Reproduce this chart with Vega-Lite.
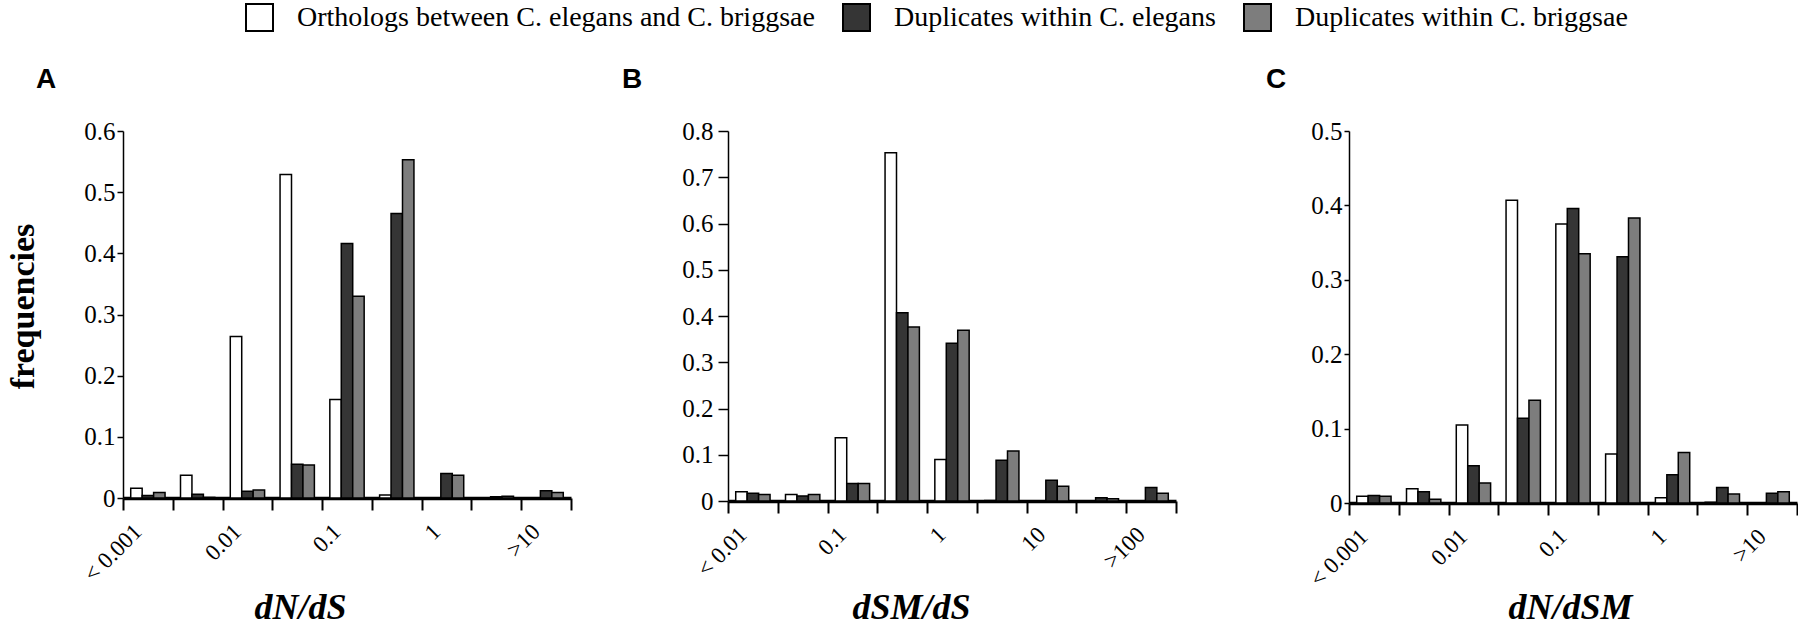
{
  "$schema": "https://vega.github.io/schema/vega-lite/v6.json",
  "background": "white",
  "padding": {"left": 6, "top": 3, "right": 0, "bottom": 0},
  "data": {"values": [
    {"panel":"A","bin":0,"series":"Orthologs between C. elegans and C. briggsae","freq":0.016},
    {"panel":"A","bin":0,"series":"Duplicates within C. elegans","freq":0.004},
    {"panel":"A","bin":0,"series":"Duplicates within C. briggsae","freq":0.009},
    {"panel":"A","bin":1,"series":"Orthologs between C. elegans and C. briggsae","freq":0.037},
    {"panel":"A","bin":1,"series":"Duplicates within C. elegans","freq":0.006},
    {"panel":"A","bin":1,"series":"Duplicates within C. briggsae","freq":0.001},
    {"panel":"A","bin":2,"series":"Orthologs between C. elegans and C. briggsae","freq":0.264},
    {"panel":"A","bin":2,"series":"Duplicates within C. elegans","freq":0.011},
    {"panel":"A","bin":2,"series":"Duplicates within C. briggsae","freq":0.013},
    {"panel":"A","bin":3,"series":"Orthologs between C. elegans and C. briggsae","freq":0.529},
    {"panel":"A","bin":3,"series":"Duplicates within C. elegans","freq":0.055},
    {"panel":"A","bin":3,"series":"Duplicates within C. briggsae","freq":0.054},
    {"panel":"A","bin":4,"series":"Orthologs between C. elegans and C. briggsae","freq":0.161},
    {"panel":"A","bin":4,"series":"Duplicates within C. elegans","freq":0.416},
    {"panel":"A","bin":4,"series":"Duplicates within C. briggsae","freq":0.330},
    {"panel":"A","bin":5,"series":"Orthologs between C. elegans and C. briggsae","freq":0.005},
    {"panel":"A","bin":5,"series":"Duplicates within C. elegans","freq":0.465},
    {"panel":"A","bin":5,"series":"Duplicates within C. briggsae","freq":0.553},
    {"panel":"A","bin":6,"series":"Orthologs between C. elegans and C. briggsae","freq":0.0},
    {"panel":"A","bin":6,"series":"Duplicates within C. elegans","freq":0.040},
    {"panel":"A","bin":6,"series":"Duplicates within C. briggsae","freq":0.037},
    {"panel":"A","bin":7,"series":"Orthologs between C. elegans and C. briggsae","freq":0.0},
    {"panel":"A","bin":7,"series":"Duplicates within C. elegans","freq":0.002},
    {"panel":"A","bin":7,"series":"Duplicates within C. briggsae","freq":0.003},
    {"panel":"A","bin":8,"series":"Orthologs between C. elegans and C. briggsae","freq":0.0},
    {"panel":"A","bin":8,"series":"Duplicates within C. elegans","freq":0.012},
    {"panel":"A","bin":8,"series":"Duplicates within C. briggsae","freq":0.009},
    {"panel":"B","bin":0,"series":"Orthologs between C. elegans and C. briggsae","freq":0.020},
    {"panel":"B","bin":0,"series":"Duplicates within C. elegans","freq":0.017},
    {"panel":"B","bin":0,"series":"Duplicates within C. briggsae","freq":0.014},
    {"panel":"B","bin":1,"series":"Orthologs between C. elegans and C. briggsae","freq":0.014},
    {"panel":"B","bin":1,"series":"Duplicates within C. elegans","freq":0.011},
    {"panel":"B","bin":1,"series":"Duplicates within C. briggsae","freq":0.014},
    {"panel":"B","bin":2,"series":"Orthologs between C. elegans and C. briggsae","freq":0.137},
    {"panel":"B","bin":2,"series":"Duplicates within C. elegans","freq":0.038},
    {"panel":"B","bin":2,"series":"Duplicates within C. briggsae","freq":0.038},
    {"panel":"B","bin":3,"series":"Orthologs between C. elegans and C. briggsae","freq":0.753},
    {"panel":"B","bin":3,"series":"Duplicates within C. elegans","freq":0.407},
    {"panel":"B","bin":3,"series":"Duplicates within C. briggsae","freq":0.376},
    {"panel":"B","bin":4,"series":"Orthologs between C. elegans and C. briggsae","freq":0.090},
    {"panel":"B","bin":4,"series":"Duplicates within C. elegans","freq":0.341},
    {"panel":"B","bin":4,"series":"Duplicates within C. briggsae","freq":0.369},
    {"panel":"B","bin":5,"series":"Orthologs between C. elegans and C. briggsae","freq":0.001},
    {"panel":"B","bin":5,"series":"Duplicates within C. elegans","freq":0.088},
    {"panel":"B","bin":5,"series":"Duplicates within C. briggsae","freq":0.108},
    {"panel":"B","bin":6,"series":"Orthologs between C. elegans and C. briggsae","freq":0.0},
    {"panel":"B","bin":6,"series":"Duplicates within C. elegans","freq":0.045},
    {"panel":"B","bin":6,"series":"Duplicates within C. briggsae","freq":0.032},
    {"panel":"B","bin":7,"series":"Orthologs between C. elegans and C. briggsae","freq":0.0},
    {"panel":"B","bin":7,"series":"Duplicates within C. elegans","freq":0.007},
    {"panel":"B","bin":7,"series":"Duplicates within C. briggsae","freq":0.005},
    {"panel":"B","bin":8,"series":"Orthologs between C. elegans and C. briggsae","freq":0.0},
    {"panel":"B","bin":8,"series":"Duplicates within C. elegans","freq":0.029},
    {"panel":"B","bin":8,"series":"Duplicates within C. briggsae","freq":0.017},
    {"panel":"C","bin":0,"series":"Orthologs between C. elegans and C. briggsae","freq":0.009},
    {"panel":"C","bin":0,"series":"Duplicates within C. elegans","freq":0.010},
    {"panel":"C","bin":0,"series":"Duplicates within C. briggsae","freq":0.009},
    {"panel":"C","bin":1,"series":"Orthologs between C. elegans and C. briggsae","freq":0.019},
    {"panel":"C","bin":1,"series":"Duplicates within C. elegans","freq":0.015},
    {"panel":"C","bin":1,"series":"Duplicates within C. briggsae","freq":0.005},
    {"panel":"C","bin":2,"series":"Orthologs between C. elegans and C. briggsae","freq":0.105},
    {"panel":"C","bin":2,"series":"Duplicates within C. elegans","freq":0.050},
    {"panel":"C","bin":2,"series":"Duplicates within C. briggsae","freq":0.027},
    {"panel":"C","bin":3,"series":"Orthologs between C. elegans and C. briggsae","freq":0.407},
    {"panel":"C","bin":3,"series":"Duplicates within C. elegans","freq":0.114},
    {"panel":"C","bin":3,"series":"Duplicates within C. briggsae","freq":0.138},
    {"panel":"C","bin":4,"series":"Orthologs between C. elegans and C. briggsae","freq":0.375},
    {"panel":"C","bin":4,"series":"Duplicates within C. elegans","freq":0.396},
    {"panel":"C","bin":4,"series":"Duplicates within C. briggsae","freq":0.335},
    {"panel":"C","bin":5,"series":"Orthologs between C. elegans and C. briggsae","freq":0.066},
    {"panel":"C","bin":5,"series":"Duplicates within C. elegans","freq":0.331},
    {"panel":"C","bin":5,"series":"Duplicates within C. briggsae","freq":0.383},
    {"panel":"C","bin":6,"series":"Orthologs between C. elegans and C. briggsae","freq":0.007},
    {"panel":"C","bin":6,"series":"Duplicates within C. elegans","freq":0.038},
    {"panel":"C","bin":6,"series":"Duplicates within C. briggsae","freq":0.068},
    {"panel":"C","bin":7,"series":"Orthologs between C. elegans and C. briggsae","freq":0.001},
    {"panel":"C","bin":7,"series":"Duplicates within C. elegans","freq":0.021},
    {"panel":"C","bin":7,"series":"Duplicates within C. briggsae","freq":0.012},
    {"panel":"C","bin":8,"series":"Orthologs between C. elegans and C. briggsae","freq":0.0},
    {"panel":"C","bin":8,"series":"Duplicates within C. elegans","freq":0.013},
    {"panel":"C","bin":8,"series":"Duplicates within C. briggsae","freq":0.015}
  ]},
  "spacing": 157,
  "bounds": "flush",
  "hconcat": [
    {
      "width": 448, "height": 367,
      "title": {"text": "A", "anchor": "start", "frame": "group", "dx": -87, "offset": 3, "baseline": "alphabetic", "font": "Liberation Sans", "fontSize": 28, "fontWeight": "bold", "color": "black"},
      "transform": [{"filter": "datum.panel === 'A'"}],
      "mark": {"type": "bar", "stroke": "black", "strokeWidth": 1.5},
      "encoding": {
        "x": {"field": "bin", "type": "ordinal", "scale": {"paddingInner": 0, "paddingOuter": 0},
          "axis": {"title": "dN/dS", "titleX": 177, "titleY": 92, "titleAlign": "center", "titleBaseline": "top",
            "labelExpr": "datum.value == 0 ? '< 0.001' : datum.value == 2 ? '0.01' : datum.value == 4 ? '0.1' : datum.value == 6 ? '1' : datum.value == 8 ? '>10' : ''",
            "tickSize": 12, "labelPadding": 10, "labelOffset": -18}},
        "xOffset": {"field": "series", "type": "nominal", "scale": {"domain": ["Orthologs between C. elegans and C. briggsae", "Duplicates within C. elegans", "Duplicates within C. briggsae"], "paddingInner": 0, "paddingOuter": 0.675}},
        "y": {"field": "freq", "type": "quantitative", "scale": {"domain": [0, 0.6], "nice": false},
          "axis": {"title": "frequencies", "titleX": -100, "titleY": 175, "titleAngle": -90, "titleAlign": "center", "titleBaseline": "middle", "titleFontStyle": "normal",
            "values": [0, 0.1, 0.2, 0.3, 0.4, 0.5, 0.6], "format": ".1~f", "tickSize": 6, "labelPadding": 2}},
        "color": {"field": "series", "type": "nominal", "scale": {"domain": ["Orthologs between C. elegans and C. briggsae", "Duplicates within C. elegans", "Duplicates within C. briggsae"], "range": ["#ffffff", "#353535", "#7d7d7d"]}, "legend": {"title": null}}
      }
    },
    {
      "spacing": 173,
      "bounds": "flush",
      "hconcat": [
        {
          "width": 448, "height": 370,
          "title": {"text": "B", "anchor": "start", "frame": "group", "dx": -106, "offset": 3, "baseline": "alphabetic", "font": "Liberation Sans", "fontSize": 28, "fontWeight": "bold", "color": "black"},
          "transform": [{"filter": "datum.panel === 'B'"}],
          "mark": {"type": "bar", "stroke": "black", "strokeWidth": 1.5},
          "encoding": {
            "x": {"field": "bin", "type": "ordinal", "scale": {"paddingInner": 0, "paddingOuter": 0},
              "axis": {"title": "dSM/dS", "titleX": 183, "titleY": 89, "titleAlign": "center", "titleBaseline": "top",
                "labelExpr": "datum.value == 0 ? '< 0.01' : datum.value == 2 ? '0.1' : datum.value == 4 ? '1' : datum.value == 6 ? '10' : datum.value == 8 ? '>100' : ''",
                "tickSize": 12, "labelPadding": 10, "labelOffset": -18}},
            "xOffset": {"field": "series", "type": "nominal", "scale": {"domain": ["Orthologs between C. elegans and C. briggsae", "Duplicates within C. elegans", "Duplicates within C. briggsae"], "paddingInner": 0, "paddingOuter": 0.675}},
            "y": {"field": "freq", "type": "quantitative", "scale": {"domain": [0, 0.8], "nice": false},
              "axis": {"title": null, "values": [0, 0.1, 0.2, 0.3, 0.4, 0.5, 0.6, 0.7, 0.8], "format": ".1~f", "tickSize": 10, "labelPadding": 5}},
            "color": {"field": "series", "type": "nominal", "scale": {"domain": ["Orthologs between C. elegans and C. briggsae", "Duplicates within C. elegans", "Duplicates within C. briggsae"], "range": ["#ffffff", "#353535", "#7d7d7d"]}, "legend": {"title": null}}
          }
        },
        {
          "width": 448, "height": 372,
          "title": {"text": "C", "anchor": "start", "frame": "group", "dx": -83, "offset": 3, "baseline": "alphabetic", "font": "Liberation Sans", "fontSize": 28, "fontWeight": "bold", "color": "black"},
          "transform": [{"filter": "datum.panel === 'C'"}],
          "mark": {"type": "bar", "stroke": "black", "strokeWidth": 1.5},
          "encoding": {
            "x": {"field": "bin", "type": "ordinal", "scale": {"paddingInner": 0, "paddingOuter": 0},
              "axis": {"title": "dN/dSM", "titleX": 221, "titleY": 87, "titleAlign": "center", "titleBaseline": "top",
                "labelExpr": "datum.value == 0 ? '< 0.001' : datum.value == 2 ? '0.01' : datum.value == 4 ? '0.1' : datum.value == 6 ? '1' : datum.value == 8 ? '>10' : ''",
                "tickSize": 12, "labelPadding": 10, "labelOffset": -18}},
            "xOffset": {"field": "series", "type": "nominal", "scale": {"domain": ["Orthologs between C. elegans and C. briggsae", "Duplicates within C. elegans", "Duplicates within C. briggsae"], "paddingInner": 0, "paddingOuter": 0.675}},
            "y": {"field": "freq", "type": "quantitative", "scale": {"domain": [0, 0.5], "nice": false},
              "axis": {"title": null, "values": [0, 0.1, 0.2, 0.3, 0.4, 0.5], "format": ".1~f", "tickSize": 5, "labelPadding": 2}},
            "color": {"field": "series", "type": "nominal", "scale": {"domain": ["Orthologs between C. elegans and C. briggsae", "Duplicates within C. elegans", "Duplicates within C. briggsae"], "range": ["#ffffff", "#353535", "#7d7d7d"]}, "legend": {"title": null}}
          }
        }
      ]
    }
  ],
  "config": {
    "view": {"stroke": null},
    "axis": {"grid": false, "labelFont": "Liberation Serif", "labelColor": "black", "titleFont": "Liberation Serif", "titleColor": "black", "domainColor": "black", "tickColor": "black"},
    "axisX": {"labelFontSize": 23, "labelAngle": -45, "labelAlign": "right", "labelBaseline": "top", "labelOverlap": false, "labelBound": false, "labelFlush": false, "tickBand": "extent", "tickWidth": 2, "domainWidth": 3.5, "zindex": 1, "titleFontSize": 36, "titleFontWeight": "bold", "titleFontStyle": "italic"},
    "axisY": {"labelFontSize": 25, "tickWidth": 1.5, "domainWidth": 1.5, "titleFontSize": 34, "titleFontWeight": "bold"},
    "legend": {"orient": "none", "legendX": 122, "legendY": -128, "direction": "horizontal", "symbolType": "square", "symbolSize": 729, "symbolStrokeColor": "black", "symbolStrokeWidth": 2, "symbolOpacity": 1, "labelFont": "Liberation Serif", "labelFontSize": 28, "labelColor": "black", "labelLimit": 1000, "labelOffset": 23, "columnPadding": 24, "padding": 0}
  }
}
